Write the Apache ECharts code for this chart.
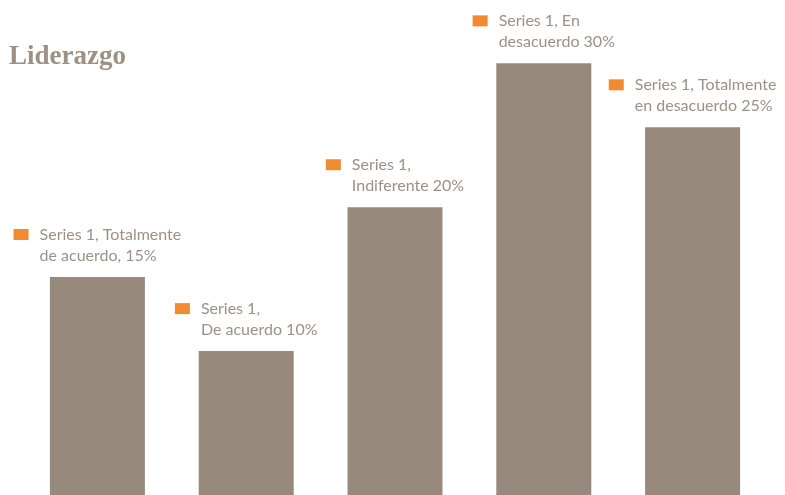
<!DOCTYPE html>
<html><head><meta charset="utf-8">
<script src="https://cdn.jsdelivr.net/npm/echarts@6/dist/echarts.min.js"></script>
<style>html,body{margin:0;padding:0;background:#fff}#c{width:785px;height:495px}</style>
</head><body><div id="c"></div>
<script>
const categories = ['Totalmente de acuerdo', 'De acuerdo', 'Indiferente', 'En desacuerdo', 'Totalmente en desacuerdo'];
const values = [15.0, 9.9, 19.8, 29.7, 25.3];
const seriesName = 'Series 1';
const labelLines = [
  ['Series 1, Totalmente', 'de acuerdo, 15%'],
  ['Series 1,', 'De acuerdo 10%'],
  ['Series 1,', 'Indiferente 20%'],
  ['Series 1, En', 'desacuerdo 30%'],
  ['Series 1, Totalmente', 'en desacuerdo 25%']
];

const chart = echarts.init(document.getElementById('c'), null, {renderer: 'canvas'});
const textColor = '#9d9185';
chart.setOption({
  animation: false,
  title: {
    text: 'Liderazgo', left: 9, top: 44, padding: 0,
    textStyle: {fontFamily: 'Liberation Serif', fontWeight: 'bold', fontSize: 27, color: '#9d9185'}
  },
  grid: {left: 23, right: 18, top: 59, bottom: -2, containLabel: false},
  xAxis: {type: 'category', data: categories, show: false},
  yAxis: {type: 'value', min: 0, max: 30, show: false},
  series: [{
    name: seriesName,
    type: 'bar',
    barWidth: 95,
    data: values,
    itemStyle: {color: '#978a7c'},
    label: {
      show: true,
      position: 'top',
      distance: 11,
      formatter: p => '{m|}{g|}{t|' + labelLines[p.dataIndex][0] + '}\n{s|}{t|' + labelLines[p.dataIndex][1] + '}',
      rich: {
        m: {width: 15, height: 11, backgroundColor: '#f28a30', align: 'left'},
        g: {width: 11, align: 'left'},
        s: {width: 26, align: 'left'},
        t: {fontFamily: 'Lato', fontSize: 16, color: textColor, lineHeight: 21, align: 'left'}
      }
    }
  }]
});
</script></body></html>
